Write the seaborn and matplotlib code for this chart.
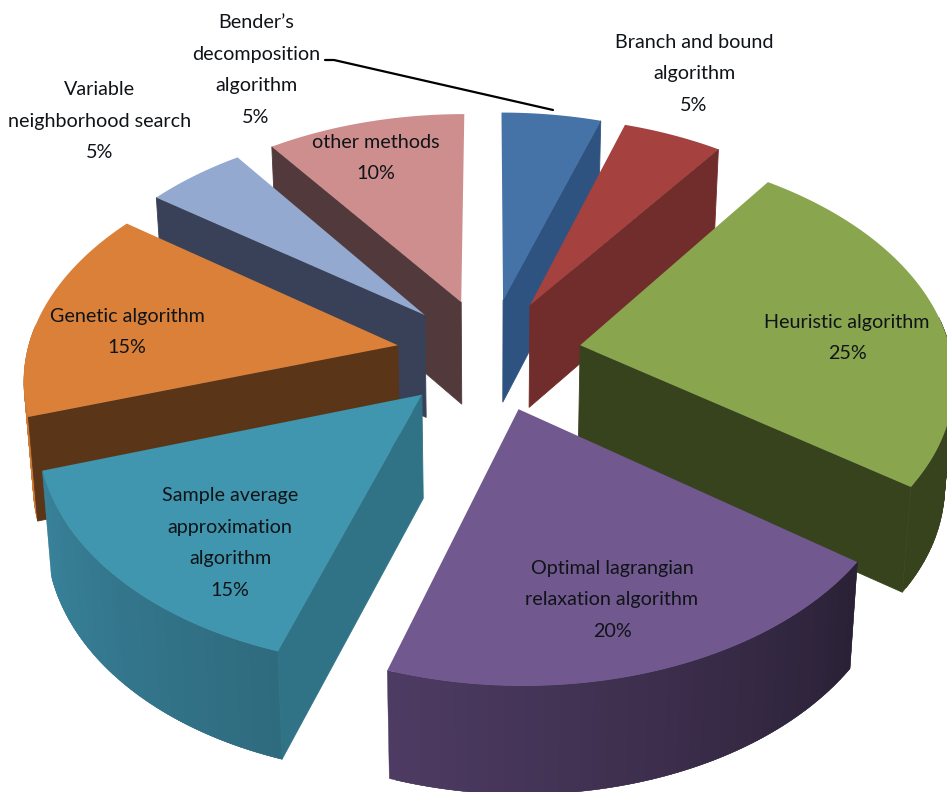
import numpy as np
import matplotlib
matplotlib.use('Agg')
import matplotlib.pyplot as plt
import seaborn as sns

# Share of each solution method, clockwise from 12 o'clock
methods = ["Bender's", 'Branch', 'Heuristic', 'Optimal', 'Sample', 'Genetic', 'Variable', 'Other']
shares = [5, 5, 25, 20, 15, 15, 5, 10]
label_text = [
    'Bender\u2019s\ndecomposition\nalgorithm\n5%',
    'Branch and bound\nalgorithm\n5%',
    'Heuristic algorithm\n25%',
    'Optimal lagrangian\nrelaxation algorithm\n20%',
    'Sample average\napproximation\nalgorithm\n15%',
    'Genetic algorithm\n15%',
    'Variable\nneighborhood search\n5%',
    'other methods\n10%',
]
label_pos = [(256, 70), (694, 74), (847, 338), (612, 600), (230, 543), (127, 332), (100, 121), (376, 158)]

top_colors = ['#4572A7', '#A5413E', '#89A54E', '#71588F', '#4096AE', '#DA8039', '#93A9CF', '#CD8E8D']
wall_colors = ['#2F5380', '#702D2B', '#36431D', '#4E3B63', '#317386', '#5A3518', '#384158', '#523A3C']
rim_light_colors = ['#2F5380', '#702D2B', '#36431D', '#4E3B63', '#38829A', '#CC7A35', '#384158', '#523A3C']
rim_dark_colors = ['#2F5380', '#702D2B', '#36431D', '#2A2136', '#2F6B7F', '#CC7A35', '#384158', '#523A3C']

# draw back slices first so front ones overlap them
draw_order = [0, 1, 7, 6, 5, 2, 3, 4]

CX, CY = 489, 354      # pie centre in pixels
SX, SY = 371, 225      # ellipse radii
PERSP = 0.13           # front of the pie comes closer
DEPTH = 103            # slab thickness
BOTTOM_SHRINK = 0.98


def project(x, y, bottom=False):
    w = 1 + PERSP * y
    u = CX + SX * x / w
    v = CY - SY * y / w
    if bottom:
        u = CX + (u - CX) * BOTTOM_SHRINK
        v = v + DEPTH / (1 + 0.04 * y)
    return u, v


def signed_area(u, v):
    return 0.5 * np.sum(u * np.roll(v, -1) - np.roll(u, -1) * v)


sns.set_theme(style='white')
plt.rcParams['font.family'] = ['Lato', 'DejaVu Sans']

fig, ax = plt.subplots(figsize=(9.47, 7.92), dpi=100)
fig.subplots_adjust(0, 0, 1, 1)

# pie works out the angles and the explode offsets, the wedges are then re-projected
wedges, _ = ax.pie(shares, startangle=90, counterclock=False, explode=[0.25] * len(shares))
geometry = [(w.center, w.r, w.theta1, w.theta2) for w in wedges]
for w in wedges:
    w.remove()

ax.set_aspect('auto')
ax.set_xlim(0, 947)
ax.set_ylim(792, 0)
ax.axis('off')

for i in draw_order:
    (x0, y0), r, t1, t2 = geometry[i]
    layer = draw_order.index(i) * 3
    t = np.radians(np.linspace(t1, t2, 80))
    x = x0 + r * np.cos(t)
    y = y0 + r * np.sin(t)
    top_u, top_v = project(x, y)
    bot_u, bot_v = project(x, y, bottom=True)
    au, av = project(x0, y0)
    bu, bv = project(x0, y0, bottom=True)

    # outer rim as strips, lighter towards the left of the picture
    rim = sns.blend_palette([rim_light_colors[i], rim_dark_colors[i]], len(t) - 1)
    if top_u[0] > top_u[-1]:
        rim = rim[::-1]
    for k in range(len(t) - 1):
        if np.sin(t[k]) > 0.1:
            continue
        # strips overlap the next one so no seams show
        n = min(k + 2, len(t) - 1)
        qu = np.array([top_u[k], top_u[n], bot_u[n], bot_u[k]])
        qv = np.array([top_v[k], top_v[n], bot_v[n], bot_v[k]])
        ax.fill(qu, qv, color=rim[k], lw=0.3, zorder=layer + 1)

    # radial walls, only those that face the viewer (skips edge-on slivers)
    mid = len(t) // 2
    side = np.sign(signed_area(np.array([au, top_u[0], top_u[mid]]), np.array([av, top_v[0], top_v[mid]])))
    for e, sign in ((0, 1), (-1, -1)):
        qu = np.array([au, top_u[e], bot_u[e], bu])
        qv = np.array([av, top_v[e], bot_v[e], bv])
        if signed_area(qu, qv) * side * sign < -1500:
            ax.fill(qu, qv, color=wall_colors[i], lw=0.6, zorder=layer + 2)

    ax.fill(np.r_[au, top_u], np.r_[av, top_v], color=top_colors[i], lw=0, zorder=layer + 3)

# Leader line of the Bender's label
ax.plot([325, 334, 553], [60, 60, 110], color='black', lw=1.6, zorder=40)

for i, txt in enumerate(label_text):
    ax.text(label_pos[i][0], label_pos[i][1], txt, ha='center', va='center', fontsize=14.2,
            color='#101418', linespacing=2.05, zorder=50)

fig.savefig('out.png', dpi=100)
